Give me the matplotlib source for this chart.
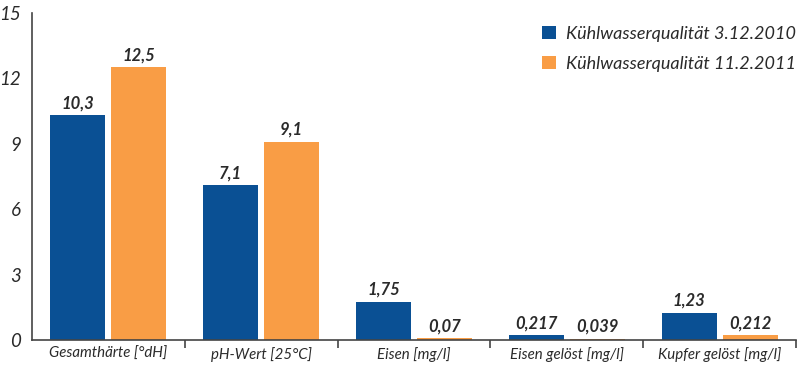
import matplotlib
matplotlib.use("Agg")
import matplotlib.pyplot as plt
import numpy as np

categories = ["Gesamthärte [°dH]", "pH-Wert [25°C]", "Eisen [mg/l]", "Eisen gelöst [mg/l]", "Kupfer gelöst [mg/l]"]
series1_name = "Kühlwasserqualität 3.12.2010"
series2_name = "Kühlwasserqualität 11.2.2011"
series1 = [10.3, 7.1, 1.75, 0.217, 1.23]
series2 = [12.5, 9.1, 0.07, 0.039, 0.212]
labels1 = ["10,3", "7,1", "1,75", "0,217", "1,23"]
labels2 = ["12,5", "9,1", "0,07", "0,039", "0,212"]
yticks = [0, 3, 6, 9, 12, 15]

blue = "#0a5094"
orange = "#f99d45"
axis_col = "#444444"
text_col = "#2a2a2a"
fam = ["Lato", "DejaVu Sans"]

fig = plt.figure(figsize=(8, 3.68), dpi=100)
ax = fig.add_axes([0.04, 0.0761, 0.955, 0.8886])

x = np.arange(len(categories))
w = 0.36
off = 0.2
b1 = ax.bar(x - off, series1, w, color=blue, label=series1_name)
b2 = ax.bar(x + off, series2, w, color=orange, label=series2_name)

for rect, t in zip(b1, labels1):
    ax.annotate(t, (rect.get_x() + rect.get_width() / 2, rect.get_height()),
                xytext=(0, 3), textcoords="offset points", ha="center", va="bottom",
                fontsize=12, fontstyle="italic", fontweight="bold", family=fam, color=text_col)
for rect, t in zip(b2, labels2):
    ax.annotate(t, (rect.get_x() + rect.get_width() / 2, rect.get_height()),
                xytext=(0, 3), textcoords="offset points", ha="center", va="bottom",
                fontsize=12, fontstyle="italic", fontweight="bold", family=fam, color=text_col)

ax.set_xlim(-0.5, len(categories) - 0.5)
ax.set_ylim(0, 15)
ax.set_yticks(yticks)
ax.set_yticklabels([str(v) for v in yticks], fontsize=13.5, fontstyle="italic", family=fam, color=text_col)
ax.tick_params(axis="y", length=0, pad=8)
ax.set_yticks([15], minor=True)
ax.tick_params(axis="y", which="minor", direction="in", length=6, color=axis_col, width=1.2)

ax.set_xticks(x)
ax.set_xticklabels(categories, fontsize=10.8, fontstyle="italic", family=fam, color=text_col)
ax.tick_params(axis="x", length=0, pad=5)
ax.set_xticks(np.arange(0.5, len(categories), 1.0), minor=True)
ax.tick_params(axis="x", which="minor", direction="out", length=6, color=axis_col, width=1.2)

for s in ["top", "right"]:
    ax.spines[s].set_visible(False)
for s in ["left", "bottom"]:
    ax.spines[s].set_color(axis_col)
    ax.spines[s].set_linewidth(1.2)

leg = ax.legend(loc="upper right", bbox_to_anchor=(1.021, 1.01), frameon=False,
                prop={"family": fam, "style": "italic", "size": 13},
                handlelength=0.75, handleheight=0.75, handletextpad=0.55, labelspacing=0.75,
                labelcolor=text_col)

fig.savefig("out.png", dpi=100)
